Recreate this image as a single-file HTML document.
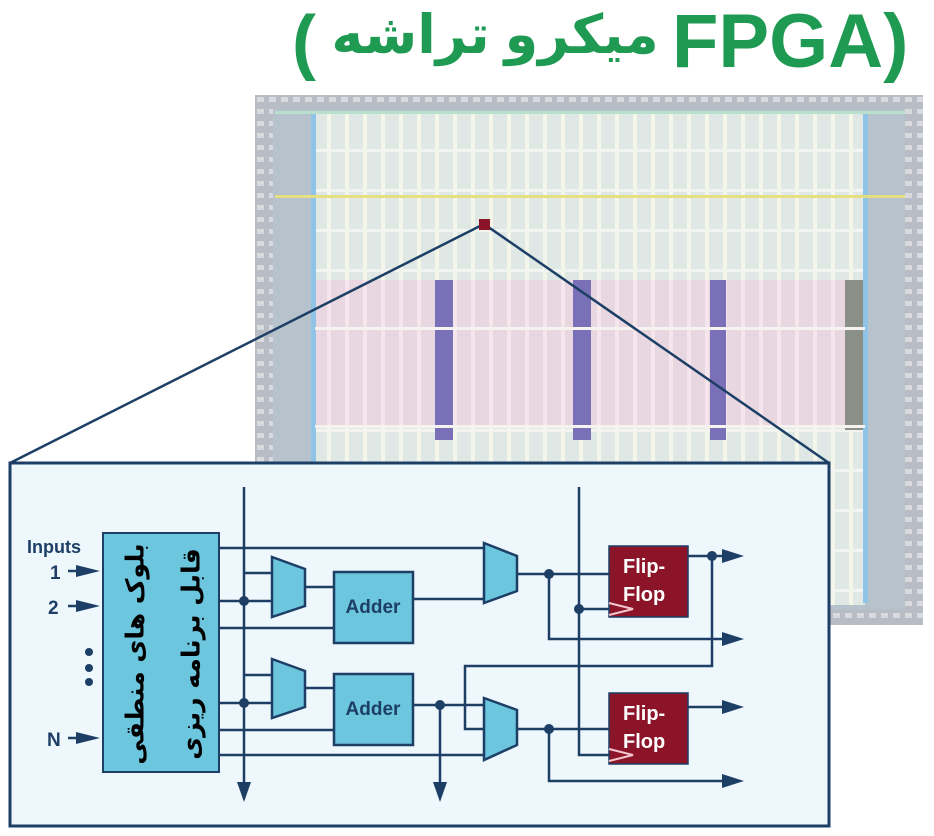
<!DOCTYPE html>
<html><head><meta charset="utf-8"><style>
html,body{margin:0;padding:0;background:#fff;}
body{width:934px;height:836px;position:relative;overflow:hidden;font-family:"Liberation Sans",sans-serif;}
.t{position:absolute;color:#1e9a52;font-weight:bold;white-space:nowrap;font-family:"Liberation Sans","DejaVu Sans",sans-serif;line-height:1;}
.chip{position:absolute;left:255px;top:95px;width:668px;height:530px;background:#c9cfd6;}
.lb{position:absolute;left:102px;top:532px;width:118px;height:241px;box-sizing:border-box;border:2px solid #1d3f66;background:#6cc6de;overflow:hidden;}
.lb div{position:absolute;left:-58px;top:64px;width:235px;height:112px;transform:rotate(-90deg);direction:rtl;font-family:"DejaVu Sans",sans-serif;font-size:25px;line-height:56px;color:#000;font-weight:bold;text-align:center;white-space:nowrap;}
</style></head><body>
<div class="t" style="left:292px;top:6px;font-size:72px;">(</div>
<div class="t" dir="rtl" style="left:325px;top:8px;width:340px;font-size:54px;text-align:center;">میکرو تراشه</div>
<div class="t" style="left:672px;top:4px;font-size:76px;">FPGA)</div>
<div class="chip">
<svg width="668" height="530" xmlns="http://www.w3.org/2000/svg">
<defs>
<pattern id="st" width="18" height="40" patternUnits="userSpaceOnUse"><rect width="18" height="40" fill="#dfe8e4"/><rect x="0" width="4" height="40" fill="#f4f6ea"/><rect y="14" width="18" height="3" fill="#f2f4f0"/></pattern>
<pattern id="pk" width="18" height="40" patternUnits="userSpaceOnUse"><rect width="18" height="40" fill="#e8d7e0"/><rect x="0" width="4" height="40" fill="#f6e6ec"/></pattern>
<pattern id="pad" width="12" height="12" patternUnits="userSpaceOnUse"><rect width="12" height="12" fill="#b8bcc4"/><rect x="2" y="2" width="7" height="5" fill="#d8dade"/></pattern>
</defs>
<rect width="668" height="530" fill="url(#pad)"/>
<rect x="18" y="14" width="632" height="500" fill="#b7c3cc"/>
<rect x="60" y="18" width="550" height="490" fill="url(#st)"/>
<rect x="60" y="185" width="550" height="160" fill="url(#pk)"/>
<rect x="60" y="330" width="550" height="180" fill="url(#st)"/>
<rect x="56" y="18" width="5" height="490" fill="#8fc4e6"/>
<rect x="608" y="18" width="5" height="490" fill="#8fc4e6"/>
<rect x="20" y="100" width="630" height="3" fill="#e4df80"/>
<rect x="20" y="16" width="630" height="3" fill="#b8e0cc"/>
<rect x="180" y="185" width="18" height="160" fill="#7a70b8"/>
<rect x="318" y="185" width="18" height="160" fill="#7a70b8"/>
<rect x="455" y="185" width="16" height="160" fill="#7a70b8"/>
<rect x="590" y="185" width="18" height="150" fill="#8a8f88"/>
<rect x="60" y="232" width="550" height="3" fill="#f6f2f0"/>
<rect x="60" y="330" width="550" height="3" fill="#f6f2f0"/>
</svg>
</div>
<svg style="position:absolute;left:0;top:0" width="934" height="836" xmlns="http://www.w3.org/2000/svg">
<line x1="484" y1="224" x2="10" y2="463" stroke="#1d3f66" stroke-width="2.5"/>
<line x1="484" y1="224" x2="829" y2="463" stroke="#1d3f66" stroke-width="2.5"/>
<rect x="479" y="219" width="11" height="11" fill="#8b1428"/>
<rect x="10" y="463" width="819" height="363" fill="#eef7fb" stroke="#1d3f66" stroke-width="3"/>
<g stroke="#1d3f66" stroke-width="2.5" fill="none">
<polyline points="220,548 484,548"/>
<polyline points="220,601 272,601"/>
<polyline points="220,628 334,628"/>
<polyline points="220,703 272,703"/>
<polyline points="220,730 334,730"/>
<polyline points="220,755 484,755"/>
<polyline points="244,487 244,790"/>
<polyline points="244,573 272,573"/>
<polyline points="244,675 272,675"/>
<line x1="305" y1="587" x2="334" y2="587"/>
<line x1="305" y1="688" x2="334" y2="688"/>
<line x1="413" y1="599" x2="484" y2="599"/>
<line x1="413" y1="705" x2="484" y2="705"/>
<line x1="440" y1="705" x2="440" y2="790"/>
<line x1="517" y1="574" x2="609" y2="574"/>
<polyline points="549,574 549,639 730,639"/>
<line x1="517" y1="729" x2="609" y2="729"/>
<polyline points="549,729 549,781 730,781"/>
<polyline points="579,487 579,755 609,755"/>
<line x1="579" y1="609" x2="609" y2="609"/>
<line x1="688" y1="556" x2="730" y2="556"/>
<polyline points="712,556 712,666 465,666 465,729 484,729"/>
<line x1="688" y1="707" x2="730" y2="707"/>
</g>
<g fill="#1d3f66">
<polygon points="244,802 237,782 251,782"/>
<polygon points="440,802 433,782 447,782"/>
<polygon points="744,556 722,549 722,563"/>
<polygon points="744,639 722,632 722,646"/>
<polygon points="744,707 722,700 722,714"/>
<polygon points="744,781 722,774 722,788"/>
<polygon points="100,571 76,565 76,577"/>
<polygon points="100,606 76,600 76,612"/>
<polygon points="100,738 76,732 76,744"/>
<line x1="68" y1="571" x2="80" y2="571" stroke="#1d3f66" stroke-width="2.5"/>
<line x1="68" y1="606" x2="80" y2="606" stroke="#1d3f66" stroke-width="2.5"/>
<line x1="68" y1="738" x2="80" y2="738" stroke="#1d3f66" stroke-width="2.5"/>
<circle cx="244" cy="601" r="5"/><circle cx="244" cy="703" r="5"/>
<circle cx="440" cy="705" r="5"/><circle cx="549" cy="574" r="5"/>
<circle cx="549" cy="729" r="5"/><circle cx="579" cy="609" r="5"/>
<circle cx="712" cy="556" r="5"/>
<circle cx="89" cy="652" r="4"/><circle cx="89" cy="668" r="4"/><circle cx="89" cy="682" r="4"/>
</g>
<g fill="#6cc6de" stroke="#1d3f66" stroke-width="2.5">
<polygon points="272,557 305,569 305,606 272,617"/>
<polygon points="272,659 305,671 305,707 272,718"/>
<polygon points="484,543 517,556 517,591 484,603"/>
<polygon points="484,698 517,710 517,745 484,760"/>
<rect x="334" y="572" width="79" height="71"/>
<rect x="334" y="674" width="79" height="71"/>
</g>
<g fill="#8b1428" stroke="#1d3f66" stroke-width="1.5">
<rect x="609" y="546" width="79" height="71"/>
<rect x="609" y="693" width="79" height="71"/>
</g>
<g fill="none" stroke="#f3c6cf" stroke-width="2">
<polyline points="609,603 633,609 609,615"/>
<polyline points="609,749 633,755 609,761"/>
</g>
<g font-family="Liberation Sans, sans-serif" font-weight="bold" fill="#1d3f66" font-size="19">
<text x="373" y="613" text-anchor="middle">Adder</text>
<text x="373" y="715" text-anchor="middle">Adder</text>
<text x="27" y="553" font-size="18">Inputs</text>
<text x="50" y="579">1</text>
<text x="48" y="614">2</text>
<text x="47" y="746">N</text>
</g>
<g font-family="Liberation Sans, sans-serif" font-weight="bold" fill="#fff" font-size="20">
<text x="623" y="573">Flip-</text><text x="623" y="601">Flop</text>
<text x="623" y="720">Flip-</text><text x="623" y="748">Flop</text>
</g>
</svg>
<div class="lb"><div>بلوک های منطقی<br>قابل برنامه ریزی</div></div>
</body></html>
